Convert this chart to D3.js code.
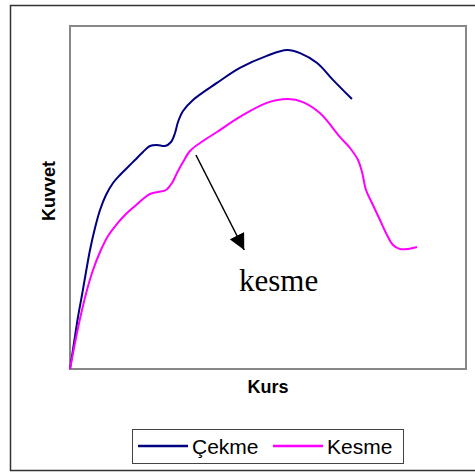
<!DOCTYPE html>
<html>
<head>
<meta charset="utf-8">
<script src="https://cdn.jsdelivr.net/npm/d3@7"></script>
<style>
  body { margin: 0; background: #fff; }
  svg { display: block; }
</style>
</head>
<body>
<div class="chart"></div>
<script>
// Kurs (x) and Kuvvet (y), arbitrary units 0..100
var cekmeX = [0, 1.01, 2.02, 3.03, 4.04, 5.05, 6.31, 7.58, 9.09, 10.86, 12.63, 14.39, 16.41, 18.43, 20.20, 21.97, 23.99, 25.51, 26.52, 27.27, 28.54, 31.06, 37.1, 42.9, 49.7, 54.8, 58.1, 62.4, 66.4, 71.2];
var cekmeY = [0, 7.58, 15.16, 21.57, 28.28, 34.69, 41.11, 46.36, 50.73, 54.23, 56.56, 58.60, 60.93, 63.27, 65.01, 65.31, 65.01, 66.18, 68.80, 72.01, 75.22, 78.43, 83.4, 87.8, 91.3, 93.0, 92.1, 89.2, 84.3, 78.7];

var kesmeX = [0, 1.01, 2.02, 3.03, 4.29, 5.81, 7.58, 9.60, 11.62, 13.89, 16.41, 18.43, 20.20, 22.22, 24.24, 25.76, 27.02, 28.54, 30.30, 32.83, 37.12, 42.9, 49.7, 55.1, 58.8, 63.1, 68.2, 70.71, 72.73, 73.74, 74.75, 76.26, 78.28, 80.05, 81.57, 83.33, 85.35, 87.63];
var kesmeY = [0, 6.12, 11.95, 17.20, 23.03, 28.86, 34.11, 38.78, 41.98, 44.90, 47.52, 49.56, 51.02, 51.60, 52.19, 54.23, 57.14, 60.35, 63.56, 65.89, 69.10, 73.5, 77.6, 78.7, 77.8, 74.6, 67.6, 64.43, 60.93, 57.43, 52.19, 48.40, 43.44, 39.07, 36.15, 34.99, 34.99, 35.57];

var seriesNames = ["Çekme", "Kesme"];
var seriesColors = ["#000080", "#ff00ff"];

// annotation arrow (start, end) in data units
var arrowX = [31.8, 44.0];
var arrowY = [62.4, 34.7];
var arrowLabel = "kesme";

var width = 475, height = 472;
var plot = { left: 70, top: 26, right: 466, bottom: 369 };

var svg = d3.select(".chart").append("svg")
  .attr("width", width)
  .attr("height", height);

svg.append("defs").append("marker")
  .attr("id", "head")
  .attr("viewBox", "0 0 10 10")
  .attr("refX", 10)
  .attr("refY", 5)
  .attr("markerWidth", 16)
  .attr("markerHeight", 16)
  .attr("markerUnits", "userSpaceOnUse")
  .attr("orient", "auto")
  .append("path")
  .attr("d", "M0,0 L10,5 L0,10 Z")
  .attr("fill", "#000");

// outer chart border (right edge runs off the page)
svg.append("rect")
  .attr("x", 10.5).attr("y", 5.5)
  .attr("width", 480).attr("height", 465)
  .attr("fill", "none")
  .attr("stroke", "#333")
  .attr("stroke-width", 1.5);

var x = d3.scaleLinear().domain([0, 100]).range([plot.left, plot.right]);
var y = d3.scaleLinear().domain([0, 100]).range([plot.bottom, plot.top]);

// plot area frame
svg.append("rect")
  .attr("x", plot.left).attr("y", plot.top)
  .attr("width", plot.right - plot.left)
  .attr("height", plot.bottom - plot.top)
  .attr("fill", "#fff")
  .attr("stroke", "#888")
  .attr("stroke-width", 2);

var line = d3.line()
  .x(function(d) { return x(d[0]); })
  .y(function(d) { return y(d[1]); })
  .curve(d3.curveCatmullRom.alpha(0.5));

var series = [d3.zip(cekmeX, cekmeY), d3.zip(kesmeX, kesmeY)];

svg.selectAll(".series")
  .data(series)
  .enter().append("path")
  .attr("class", "series")
  .attr("d", line)
  .attr("fill", "none")
  .attr("stroke", function(d, i) { return seriesColors[i]; })
  .attr("stroke-width", 2);

// annotation
svg.append("line")
  .attr("x1", x(arrowX[0])).attr("y1", y(arrowY[0]))
  .attr("x2", x(arrowX[1])).attr("y2", y(arrowY[1]))
  .attr("stroke", "#000")
  .attr("stroke-width", 1.5)
  .attr("marker-end", "url(#head)");

svg.append("text")
  .attr("x", 239).attr("y", 291)
  .attr("font-family", "'Liberation Serif', 'Times New Roman', serif")
  .attr("font-size", 31)
  .text(arrowLabel);

// axis titles
svg.append("text")
  .attr("x", (plot.left + plot.right) / 2)
  .attr("y", 393)
  .attr("text-anchor", "middle")
  .attr("font-family", "'Liberation Sans', Arial, sans-serif")
  .attr("font-weight", "bold")
  .attr("font-size", 18)
  .text("Kurs");

svg.append("text")
  .attr("transform", "translate(55,191) rotate(-90)")
  .attr("text-anchor", "middle")
  .attr("font-family", "'Liberation Sans', Arial, sans-serif")
  .attr("font-weight", "bold")
  .attr("font-size", 18)
  .text("Kuvvet");

// legend
var legend = svg.append("g");
legend.append("rect")
  .attr("x", 132.5).attr("y", 429.5)
  .attr("width", 271).attr("height", 34)
  .attr("fill", "#fff")
  .attr("stroke", "#444")
  .attr("stroke-width", 1);

var legendX = [138, 273];
var items = legend.selectAll(".item")
  .data(seriesNames)
  .enter().append("g")
  .attr("class", "item")
  .attr("transform", function(d, i) { return "translate(" + legendX[i] + ",446)"; });

items.append("line")
  .attr("x1", 0).attr("x2", 50)
  .attr("stroke", function(d, i) { return seriesColors[i]; })
  .attr("stroke-width", 2.5);

items.append("text")
  .attr("x", 54).attr("y", 8)
  .attr("font-family", "'Liberation Sans', Arial, sans-serif")
  .attr("font-size", 21)
  .text(function(d) { return d; });
</script>
</body>
</html>
